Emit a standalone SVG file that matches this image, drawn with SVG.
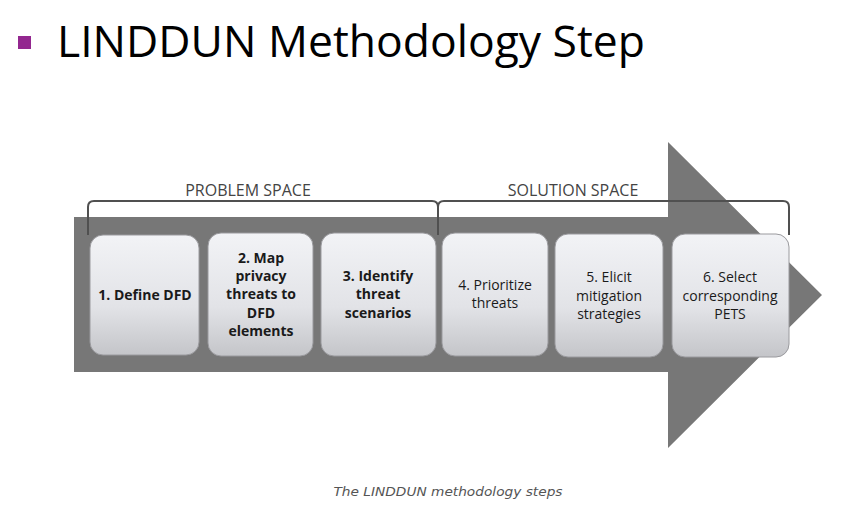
<svg xmlns="http://www.w3.org/2000/svg" width="848" height="520" viewBox="0 0 848 520">
<defs>
<linearGradient id="bg" x1="0" y1="0" x2="0" y2="1">
<stop offset="0" stop-color="#f2f3f6"/>
<stop offset="0.6" stop-color="#e2e3e7"/>
<stop offset="1" stop-color="#c4c5c9"/>
</linearGradient>
<style>
.box{fill:url(#bg);stroke:#9a9a9e;stroke-width:1}
.t{font-family:"Open Sans","Noto Sans","DejaVu Sans",sans-serif;font-size:14px;fill:#1a1a1a;text-anchor:middle}
.b{font-weight:bold}
.lbl{font-family:"Open Sans","Noto Sans",sans-serif;font-size:16px;fill:#444;text-anchor:middle}
.br{fill:none;stroke:#505050;stroke-width:2}
</style>
</defs>
<rect width="848" height="520" fill="#ffffff"/>
<rect x="18" y="36" width="13" height="13" fill="#93278f"/>
<text x="57" y="57" font-family="Open Sans,Noto Sans,sans-serif" font-size="44" fill="#000" textLength="588" lengthAdjust="spacingAndGlyphs">LINDDUN Methodology Step</text>
<polygon points="74,217 668,217 668,142 822,295 668,448 668,372 74,372" fill="#777777"/>
<g id="connectors">
<path class="br" d="M88,235 V207 Q88,201 94,201 H432 Q438,201 438,207 V235 M438,207 Q438,201 444,201 H783 Q789,201 789,207 V235"/>
</g>
<text class="lbl" x="248" y="196">PROBLEM SPACE</text>
<text class="lbl" x="573" y="196">SOLUTION SPACE</text>
<g id="n1"><rect class="box" x="90" y="235" width="109" height="120" rx="13"/>
<text class="t b" x="145" y="300">1. Define DFD</text></g>
<g id="n2"><rect class="box" x="208" y="233" width="105" height="123" rx="13"/>
<text class="t b" x="261"><tspan x="261" y="263">2. Map</tspan><tspan x="261" y="281">privacy</tspan><tspan x="261" y="299">threats to</tspan><tspan x="261" y="318">DFD</tspan><tspan x="261" y="336">elements</tspan></text></g>
<g id="n3"><rect class="box" x="321" y="233" width="115" height="123" rx="13"/>
<text class="t b"><tspan x="378" y="281">3. Identify</tspan><tspan x="378" y="299">threat</tspan><tspan x="378" y="318">scenarios</tspan></text></g>
<g id="n4"><rect class="box" x="442" y="233" width="106" height="123" rx="13"/>
<text class="t"><tspan x="495" y="290">4. Prioritize</tspan><tspan x="495" y="308">threats</tspan></text></g>
<g id="n5"><rect class="box" x="555" y="234" width="108" height="123" rx="13"/>
<text class="t"><tspan x="609" y="282">5. Elicit</tspan><tspan x="609" y="301">mitigation</tspan><tspan x="609" y="319">strategies</tspan></text></g>
<g id="n6"><rect class="box" x="672" y="234" width="117" height="123" rx="13"/>
<text class="t"><tspan x="730" y="282">6. Select</tspan><tspan x="730" y="301">corresponding</tspan><tspan x="730" y="319">PETS</tspan></text></g>
<text x="448" y="496" font-family="DejaVu Sans,Verdana,sans-serif" font-style="italic" font-size="13" fill="#555" text-anchor="middle" textLength="229" lengthAdjust="spacingAndGlyphs">The LINDDUN methodology steps</text>
</svg>
